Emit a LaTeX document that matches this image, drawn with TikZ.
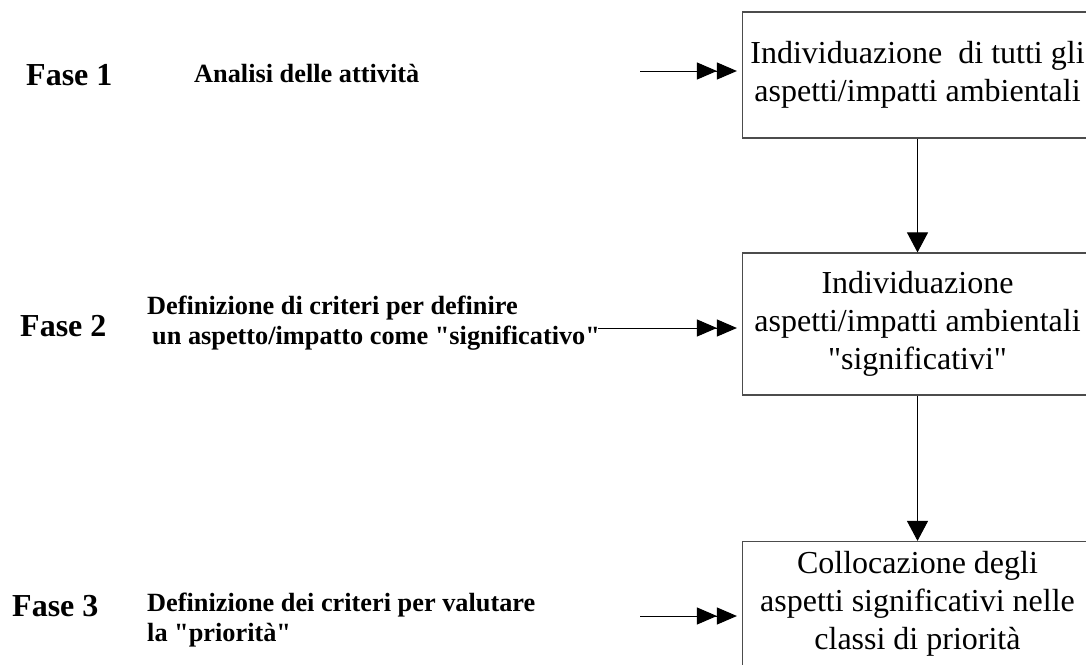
\documentclass[tikz,border=0pt]{standalone}
\usepackage{fontspec}
\setmainfont{Liberation Serif}
\newfontfamily\testo{Liberation Serif}
\usepackage{tikz}
\usetikzlibrary{arrows.meta}
\newcommand{\faseFont}[0]{\testo\fontsize{32}{36}\selectfont\bfseries}
\newcommand{\attFont}[0]{\testo\fontsize{26.3}{30}\selectfont\bfseries}
\newcommand{\boxFont}[0]{\testo\fontsize{32}{38}\selectfont}

\begin{document}
\begin{tikzpicture}[x=1pt, y=-1pt]
  \tikzset{fase/.style={font=\faseFont, anchor=west, inner sep=0pt},
           attivita/.style={font=\attFont, align=left, anchor=west, inner sep=0pt},
           passo/.style={draw=black!70, line width=1.2pt, font=\boxFont, minimum width=350pt, align=center},
           freccia/.style={line width=1pt, shorten >=5pt, -{Triangle[length=20pt,width=17pt]Triangle[length=20pt,width=17pt]}},
           scendi/.style={line width=1pt, -{Triangle[length=20pt,width=21pt]}}}
  \useasboundingbox (0,0) rectangle (1086,664);
  \clip (0,0) rectangle (1086,664);
  % the three phases
  \node[fase] (f1) at (26,75) {Fase 1};
  \node[attivita] (a1) at (194,73) {Analisi delle attività};
  \node[fase] (f2) at (20,326) {Fase 2};
  \node[attivita] (a2) at (147,323) {Definizione di criteri per definire\\
    \hspace{5pt}un aspetto/impatto come "significativo"};
  \node[fase] (f3) at (12,606) {Fase 3};
  \node[attivita] (a3) at (147,620) {Definizione dei criteri per valutare\\
    la "priorità"};
  % boxes on the right
  \node[passo, minimum height=126pt] (b1) at (917.5,75)
    {Individuazione\ \ di tutti gli\\aspetti/impatti ambientali};
  \node[passo, minimum height=142pt] (b2) at (917.5,324)
    {Individuazione\\aspetti/impatti ambientali\\"significativi"};
  \node[passo, minimum height=124pt] (b3) at (917.5,603.5)
    {Collocazione degli\\aspetti significativi nelle\\classi di priorità};
  \coordinate (s1) at (640,71);
  \coordinate (s2) at (598,328);
  \coordinate (s3) at (640,616);
  \draw[freccia] (s1) -- (s1 -| b1.west);
  \draw[freccia] (s2) -- (s2 -| b2.west);
  \draw[freccia] (s3) -- (s3 -| b3.west);
  \draw[scendi] (b1.south) -- (b2.north);
  \draw[scendi] (b2.south) -- (b3.north);
\end{tikzpicture}
\end{document}
